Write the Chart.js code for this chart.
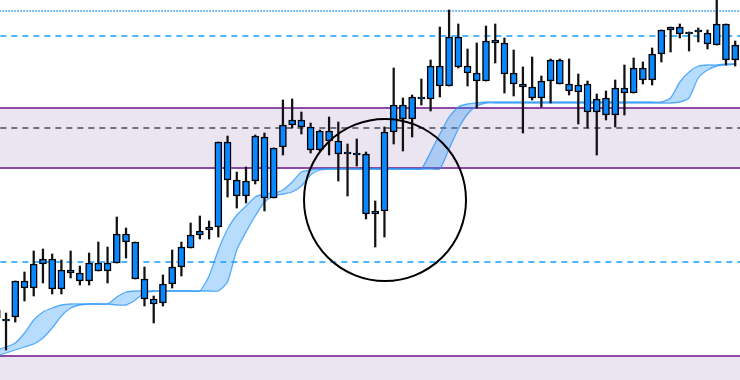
<!DOCTYPE html>
<html>
<head>
<meta charset="utf-8">
<script src="https://cdn.jsdelivr.net/npm/chart.js@4/dist/chart.umd.min.js"></script>
<style>
  html, body { margin: 0; padding: 0; background: #fff; }
  canvas { display: block; }
</style>
</head>
<body>
<canvas id="chart" width="740" height="380"></canvas>
<script>
// price levels (axis is flipped, smaller = higher)
var wickTop = [300, 313, 281, 272, 251, 249, 254, 260, 251, 266, 253, 242, 247, 217, 228, 242, 267, 296, 275, 250,
  242, 223, 216, 221, 142, 136, 172, 167, 135, 133, 148, 100, 99, 112, 123, 130, 117, 122, 144, 139,
  152, 201, 127, 68, 98, 95, 79, 60, 27, 10, 24, 49, 43, 26, 24, 38, 50, 67, 57, 76,
  59, 59, 59, 74, 81, 94, 91, 80, 65, 58, 62, 48, 30, 27, 24, 32, 28, 30, 0, 24, 41];
var bodyTop = [310, 321, 281, 281, 264, 259, 259, 270, 270, 273, 263, 263, 263, 234, 234, 242, 279, 299, 284, 267,
  247, 235, 231, 227, 142, 142, 180, 181, 136, 137, 148, 125, 120, 120, 127, 131, 131, 141, 154, 155,
  154, 211, 132, 105, 105, 97, 97, 66, 66, 37, 37, 66, 73, 41, 40, 43, 73, 84, 87, 81,
  60, 60, 84, 85, 84, 99, 98, 88, 88, 68, 68, 54, 30, 27, 27, 32, 32, 33, 24, 24, 45];
var bodyBot = [318, 321, 317, 288, 288, 264, 289, 289, 273, 281, 281, 271, 271, 263, 242, 279, 299, 304, 303, 284,
  267, 248, 235, 230, 227, 180, 196, 196, 181, 198, 198, 147, 125, 127, 150, 150, 141, 154, 154, 155,
  214, 214, 211, 132, 119, 119, 99, 99, 86, 86, 67, 73, 81, 81, 43, 74, 84, 87, 98, 98,
  81, 84, 91, 92, 112, 112, 115, 115, 93, 93, 80, 80, 54, 30, 34, 34, 32, 44, 45, 60, 60];
var wickBot = [322, 350, 322, 301, 296, 283, 294, 294, 278, 285, 285, 271, 283, 263, 258, 279, 306, 323, 306, 288,
  276, 248, 239, 239, 237, 197, 208, 203, 184, 211, 198, 155, 128, 134, 153, 151, 155, 181, 196, 166,
  219, 247, 237, 144, 151, 137, 105, 111, 97, 86, 68, 86, 108, 81, 63, 93, 96, 133, 100, 107,
  103, 84, 95, 124, 128, 155, 120, 127, 115, 93, 84, 85, 62, 52, 38, 51, 42, 49, 45, 65, 66];

// trailing band (upper and lower edge)
var bandUpper = [350, 347, 343, 333, 320, 312, 308, 305, 304, 304, 304, 304, 304, 297, 292, 291, 291, 291, 291, 291,
  291, 291, 291, 276, 250, 229, 215, 206, 197, 194, 193, 190, 182, 172, 170, 169, 169, 169, 169, 169,
  169, 169, 169, 169, 169, 169, 169, 152, 134, 117, 107, 104, 103, 102, 102, 102, 102, 102, 102, 102,
  102, 102, 102, 102, 102, 102, 102, 102, 102, 102, 102, 102, 102, 98, 82, 72, 66, 65, 65, 64, 64];
var bandLower = [356, 353, 350, 347, 344, 338, 328, 316, 308, 305, 304, 304, 304, 305, 305, 300, 293, 291, 291, 291,
  291, 291, 291, 291, 291, 282, 250, 232, 216, 202, 196, 194, 192, 186, 175, 170, 169, 169, 169, 169,
  169, 169, 169, 169, 169, 169, 169, 169, 169, 149, 129, 114, 106, 103, 103, 103, 103, 103, 103, 103,
  103, 103, 103, 103, 103, 103, 103, 103, 103, 103, 103, 103, 103, 103, 102, 98, 78, 70, 66, 65, 64];

// horizontal levels
var dottedLevel = 11;
var blueLevels = [36, 262];
var zoneTop = 108;
var zoneMid = 128;
var zoneBottom = 168;
var lowerZone = 356;

// marked area
var markX = 42.06;
var markY = 200;

var BLUE = '#0a88ff';
var PURPLE = '#8a4aa6';
var LAVENDER = '#ebe4f1';

function level(y) {
    return [{ x: -2, y: y }, { x: 83, y: y }];
}

function levelLine(y, color, width, dash, extra) {
    var ds = {
        type: 'line',
        data: level(y),
        borderColor: color,
        borderWidth: width,
        borderDash: dash || [],
        pointRadius: 0,
        fill: false,
        order: 20
    };
    if (extra) {
        for (var k in extra) ds[k] = extra[k];
    }
    return ds;
}

var wicks = wickTop.map(function (t, i) { return { x: i, y: [t, wickBot[i]] }; });
var bodies = bodyTop.map(function (t, i) { return { x: i, y: [t, bodyBot[i]] }; });
var upperPts = bandUpper.map(function (v, i) { return { x: i, y: v }; });
var lowerPts = bandLower.map(function (v, i) { return { x: i, y: v }; });

var datasets = [
    // 0,1: zone between purple lines (fill is painted first, then both lines)
    levelLine(zoneTop, PURPLE, 2, null, { order: 29 }),
    levelLine(zoneBottom, PURPLE, 2, null, { order: 30, fill: '-1', backgroundColor: LAVENDER }),
    // 2: lower zone down to the bottom
    levelLine(lowerZone, PURPLE, 2, null, { order: 28, fill: { value: 400 }, backgroundColor: LAVENDER }),
    levelLine(zoneMid, '#4a4a55', 1.3, [6, 5]),
    levelLine(dottedLevel, '#1e8ff0', 1.5, [1.5, 1.5]),
    levelLine(blueLevels[0], '#12a0ff', 1.5, [6, 5]),
    levelLine(blueLevels[1], '#12a0ff', 1.5, [6, 5]),
    // 7,8: trailing band
    {
        type: 'line',
        data: upperPts,
        borderColor: 'rgba(40,150,250,0.75)',
        borderWidth: 1.3,
        pointRadius: 0,
        tension: 0.2,
        fill: false,
        order: 10
    },
    {
        type: 'line',
        data: lowerPts,
        borderColor: 'rgba(40,150,250,0.75)',
        borderWidth: 1.3,
        pointRadius: 0,
        tension: 0.2,
        fill: '-1',
        backgroundColor: 'rgba(40,150,250,0.33)',
        order: 9
    },
    // candles
    {
        type: 'bar',
        data: wicks,
        backgroundColor: '#111',
        borderWidth: 0,
        barThickness: 1.6,
        grouped: false,
        order: 5
    },
    {
        type: 'bar',
        data: bodies,
        backgroundColor: BLUE,
        borderColor: '#000',
        borderWidth: 1.5,
        borderSkipped: false,
        barThickness: 7,
        minBarLength: 2,
        grouped: false,
        order: 4
    },
    // circle around the dip
    {
        type: 'scatter',
        data: [{ x: markX, y: markY }],
        pointRadius: 81,
        pointBorderWidth: 2,
        pointBorderColor: '#000',
        pointBackgroundColor: 'rgba(0,0,0,0)',
        showLine: false,
        order: 1
    }
];

new Chart(document.getElementById('chart'), {
    type: 'bar',
    data: { datasets: datasets },
    options: {
        responsive: false,
        animation: false,
        events: [],
        layout: { padding: 0, autoPadding: false },
        plugins: {
            legend: { display: false },
            tooltip: { enabled: false }
        },
        scales: {
            x: { type: 'linear', display: false, offset: false, min: 0.347, max: 80.52 },
            y: { type: 'linear', display: false, reverse: true, min: 0, max: 380 }
        }
    }
});
</script>
</body>
</html>
